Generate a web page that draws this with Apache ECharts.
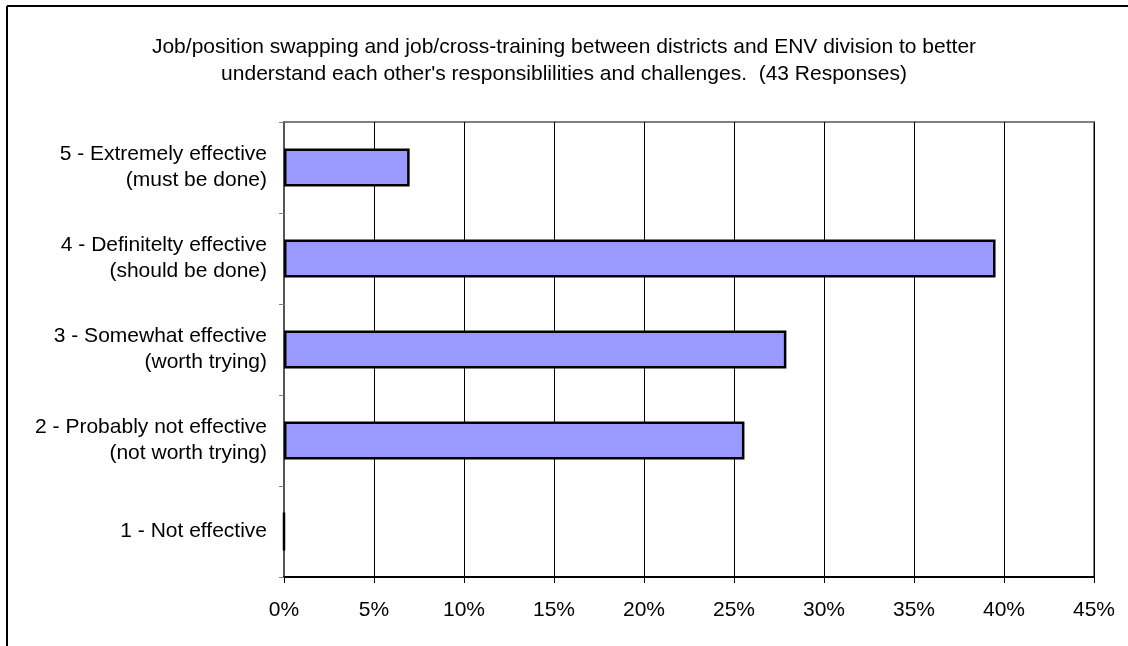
<!DOCTYPE html>
<html>
<head>
<meta charset="utf-8">
<script src="https://cdn.jsdelivr.net/npm/echarts@6/dist/echarts.min.js"></script>
<style>html,body{margin:0;padding:0;background:#fff}#c{width:1128px;height:646px}</style>
</head>
<body>
<div id="c"></div>
<script>
const titleText = "Job/position swapping and job/cross-training between districts and ENV division to better\nunderstand each other's responsiblilities and challenges.  (43 Responses)";
const categories = [
  "1 - Not effective",
  "2 - Probably not effective\n(not worth trying)",
  "3 - Somewhat effective\n(worth trying)",
  "4 - Definitelty effective\n(should be done)",
  "5 - Extremely effective\n(must be done)"
];
const percentValues = [0, 25.58, 27.91, 39.53, 6.98];
const xTicks = { min: 0, max: 45, interval: 5 };

const chart = echarts.init(document.getElementById('c'), null, {renderer: 'canvas'});
const font = 'Liberation Sans, Arial, Helvetica, sans-serif';
chart.setOption({
  animation: false,
  backgroundColor: '#fff',
  title: {
    text: titleText,
    left: 'center',
    top: 29,
    textStyle: { fontFamily: font, fontSize: 21, fontWeight: 'normal', color: '#000', lineHeight: 27 }
  },
  graphic: [
    { type: 'line', shape: { x1: 7, y1: 6, x2: 1128, y2: 6 }, style: { stroke: '#000', lineWidth: 2 } },
    { type: 'line', shape: { x1: 7, y1: 6, x2: 7, y2: 646 }, style: { stroke: '#000', lineWidth: 2 } }
  ],
  grid: {
    left: 284, right: 34, top: 122, bottom: 69,
    show: true, borderColor: '#808080', borderWidth: 2, backgroundColor: '#fff'
  },
  xAxis: {
    type: 'value',
    min: xTicks.min, max: xTicks.max, interval: xTicks.interval,
    axisLine: { show: true, lineStyle: { color: '#000', width: 2 } },
    axisTick: { show: true, length: 6, lineStyle: { color: '#000' } },
    splitLine: { show: true, lineStyle: { color: '#000', width: 1 } },
    axisLabel: { formatter: '{value}%', fontFamily: font, fontSize: 21, color: '#000', margin: 23 }
  },
  yAxis: {
    type: 'category',
    data: categories,
    axisLine: { show: true, lineStyle: { color: '#555', width: 2 } },
    axisTick: { show: true, length: 5, lineStyle: { color: '#808080' } },
    splitLine: { show: false },
    axisLabel: { fontFamily: font, fontSize: 21, color: '#000', margin: 17, align: 'right', lineHeight: 26 }
  },
  series: [{
    type: 'bar',
    data: percentValues,
    barWidth: 38,
    itemStyle: { color: '#9999FF', borderColor: '#000', borderWidth: 2.5 }
  }]
});
</script>
</body>
</html>
